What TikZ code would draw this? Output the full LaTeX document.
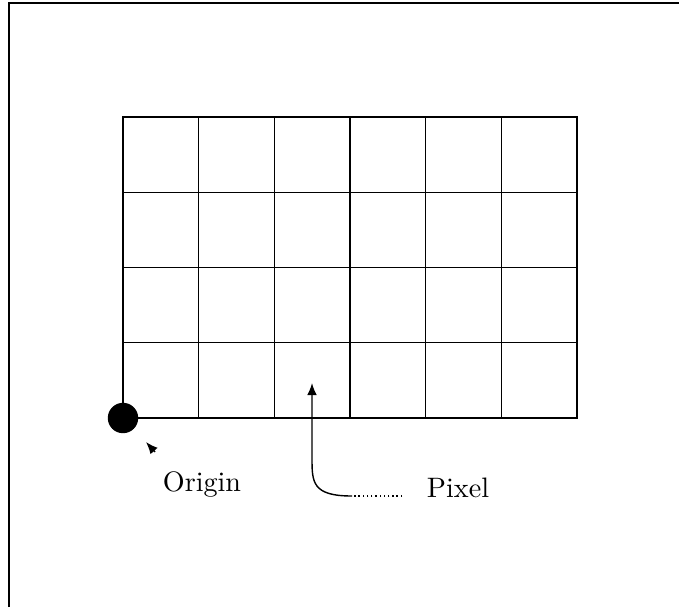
\documentclass[tikz,border=0pt]{standalone}
\usepackage{tikz}
\usetikzlibrary{arrows.meta,positioning,calc}
\tikzset{
  frameline/.style={line width=0.6pt},
  gridline/.style={line width=0.4pt},
  dot/.style={circle, fill=black, inner sep=0pt, minimum size=0.38cm},
  label/.style={inner sep=1pt, font=\normalsize},
  arrowhead/.style={-{Latex[length=1.5mm,width=1.2mm]}, line width=0.5pt}
}

\begin{document}
\begin{tikzpicture}[x=0.0125cm, y=-0.0125cm]
\useasboundingbox (0,0) rectangle (679,607);
% outer frame (only left and top edges show)
\draw[frameline] (9,607) -- (9,3) -- (679,3);

% pixel grid
\coordinate (gridSW) at (123,418);
\coordinate (gridNE) at (577,117);
\draw[gridline] (gridSW) rectangle (gridNE);
\foreach \i in {1,...,5}
  \draw[gridline] ($(gridSW)!\i/6!(gridSW -| gridNE)$) -- ($(gridSW |- gridNE)!\i/6!(gridNE)$);
\foreach \j in {1,...,3}
  \draw[gridline] ($(gridSW)!\j/4!(gridSW |- gridNE)$) -- ($(gridSW -| gridNE)!\j/4!(gridNE)$);

\node[dot] (origindot) at (gridSW) {};

% labels
\node[label] (origin) at (202,484) {Origin};
\node[label] (pixel) at (458,488) {Pixel};

% arrows
\coordinate (origintail) at (155,452);
\coordinate (origintip) at (146,442);
\draw[arrowhead] (origintail) -- (origintip);

\coordinate (pixeltip) at (312,383);
\coordinate (pixelbend) at (352,496);
\coordinate (pixelstart) at (402,496);
\draw[densely dotted, line width=0.5pt] (pixelstart) -- (pixelbend);
\draw[arrowhead] (pixelbend) .. controls (312,496) and (312,482) .. (312,458) -- (pixeltip);
\end{tikzpicture}
\end{document}
